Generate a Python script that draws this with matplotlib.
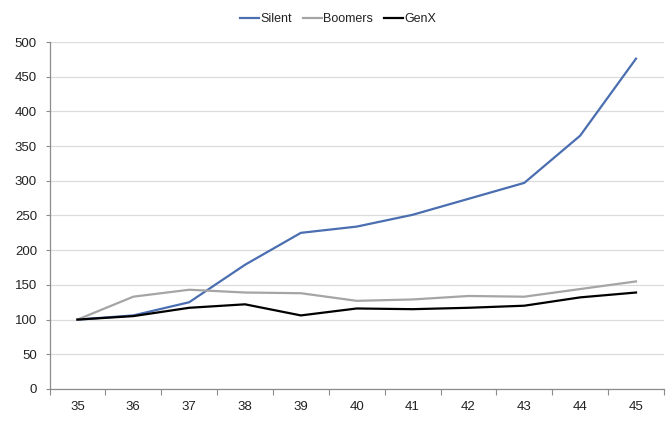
import matplotlib
matplotlib.use("Agg")
import matplotlib.pyplot as plt
import numpy as np

plt.rcParams['font.family'] = ['Liberation Sans', 'DejaVu Sans']

ages = ["35", "36", "37", "38", "39", "40", "41", "42", "43", "44", "45"]
silent = [100, 106, 125, 179, 225, 234, 251, 274, 297, 365, 476]
boomers = [100, 133, 143, 139, 138, 127, 129, 134, 133, 144, 155]
genx = [100, 105, 117, 122, 106, 116, 115, 117, 120, 132, 139]
y_ticks = [0, 50, 100, 150, 200, 250, 300, 350, 400, 450, 500]

fig = plt.figure(figsize=(6.72, 4.26), dpi=100)
ax = fig.add_axes([0.0737, 0.0869, 0.9143, 0.8145])

x = np.arange(len(ages))
ax.plot(x, silent, color="#4A6EB0", lw=1.6, label="Silent")
ax.plot(x, boomers, color="#A5A5A5", lw=1.6, label="Boomers")
ax.plot(x, genx, color="#000000", lw=1.6, label="GenX")

ax.set_xlim(-0.5, len(ages) - 0.5)
ax.set_ylim(0, 500)
ax.set_yticks(y_ticks)
ax.set_xticks(x)
ax.set_xticklabels(ages)
ax.set_xticks(np.arange(-0.5, len(ages)), minor=True)
ax.tick_params(axis="x", which="major", length=0, pad=9, labelsize=9.5, colors="#222222")
ax.tick_params(axis="x", which="minor", length=4, color="#8C8C8C", width=0.8)
ax.tick_params(axis="y", length=3, color="#8C8C8C", width=0.8, labelsize=9.5, colors="#222222", pad=6)

ax.grid(axis="y", color="#DCDCDC", lw=0.9)
ax.set_axisbelow(True)
for s in ["top", "right"]:
    ax.spines[s].set_visible(False)
for s in ["left", "bottom"]:
    ax.spines[s].set_color("#8C8C8C")
    ax.spines[s].set_linewidth(0.9)

fig.legend(loc="upper center", bbox_to_anchor=(0.503, 0.995), ncol=3, frameon=False,
           fontsize=9, handlelength=1.5, handletextpad=0.1, columnspacing=0.9,
           labelcolor="#222222")

fig.savefig("out.png", dpi=100)
